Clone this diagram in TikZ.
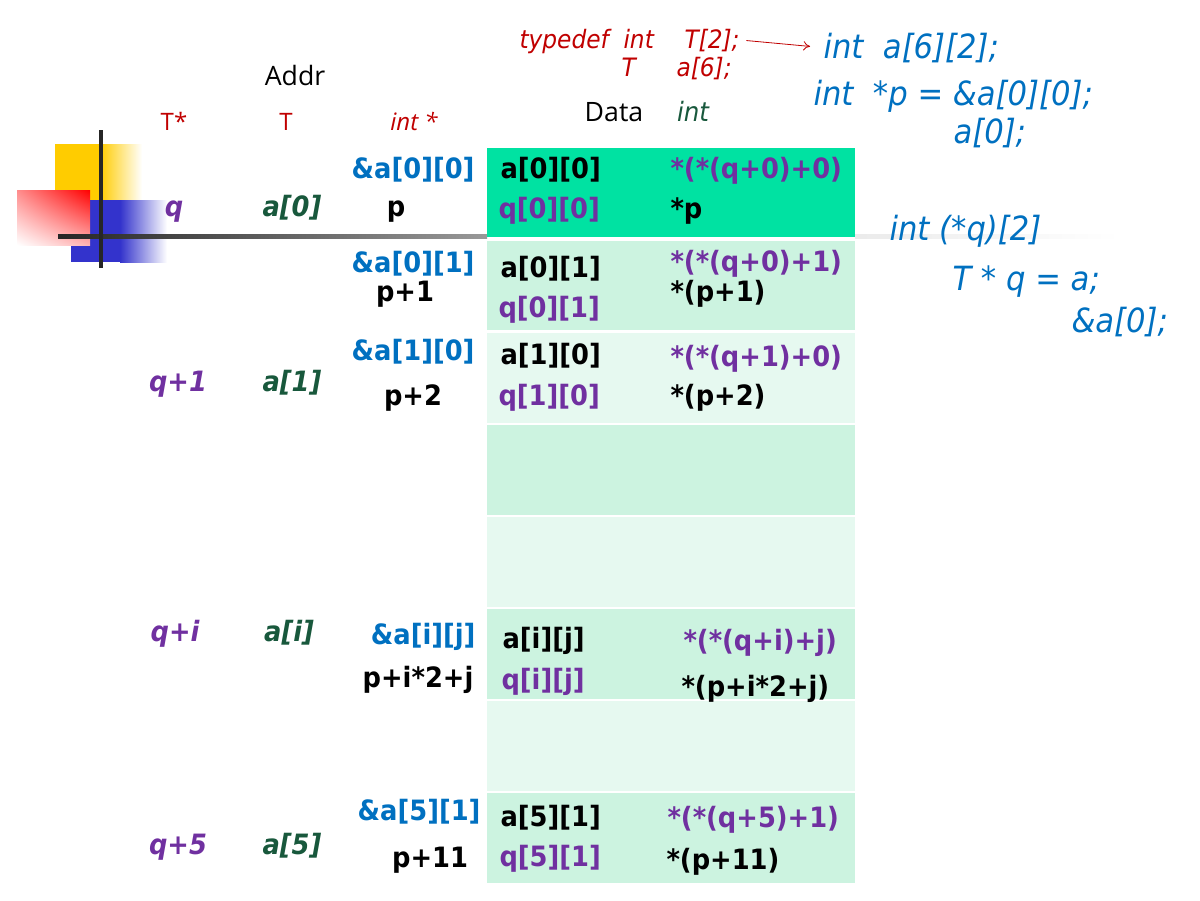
\documentclass[tikz,border=0pt]{standalone}
\usepackage{fontspec}
\setmainfont{DejaVu Sans}[FakeStretch=0.92]
\newfontfamily\hdrfont{Open Sans}
\usetikzlibrary{arrows.meta,shadings}

\definecolor{cRed}{RGB}{192,0,0}
\definecolor{cPurple}{RGB}{112,48,160}
\definecolor{cGreen}{RGB}{24,88,60}
\definecolor{cBlue}{RGB}{0,112,192}
\definecolor{cMint}{RGB}{0,226,162}
\definecolor{cPale}{RGB}{204,243,224}
\definecolor{cPaler}{RGB}{230,249,240}
\definecolor{cYellow}{RGB}{255,204,0}
\definecolor{cSquare}{RGB}{51,51,204}

\tikzset{every picture/.style={line width=0.75pt}}
\tikzset{
  cellb/.style={inner sep=0.75pt, font=\bfseries\fontsize{21}{25}\selectfont},
  sideb/.style={inner sep=0.75pt, font=\bfseries\itshape\fontsize{21}{25}\selectfont},
  hdr/.style={inner sep=0.75pt, font=\hdrfont\fontsize{20}{24}\selectfont},
  code/.style={inner sep=0.75pt, color=cBlue, font=\itshape\fontsize{25}{30}\selectfont},
  tdef/.style={inner sep=0.75pt, color=cRed, font=\itshape\fontsize{19}{23}\selectfont}
}

\begin{document}
\begin{tikzpicture}[x=0.75pt,y=0.75pt,yscale=-1,xscale=1]
\useasboundingbox (0,0) rectangle (1200,900);

%Shape: Squares (corner decoration)
\fill [cYellow] (55,144) rectangle (100,200);
\shade [left color=cYellow, right color=white] (100,144) rectangle (142,200);
\fill [cSquare] (71,200) rectangle (120,262);
\shade [left color=cSquare, right color=white] (120,200) rectangle (167,262);
\shade [upper right=red, upper left=red!45, lower right=red!30, lower left=white] (17,190) rectangle (90,245);
%Straight Lines
\shade [left color=black!85, right color=black!40] (58,234) rectangle (487,238);
\shade [left color=black!8, right color=white] (855,234) rectangle (1120,238);
\draw [line width=3pt, color=black!85] (101,130) -- (101,268);

%Shape: Rectangle
\fill [cMint] (487,148) rectangle (855,237);
\fill [cPale] (487,241) rectangle (855,330);
\fill [cPaler] (487,333) rectangle (855,423);
\fill [cPale] (487,425) rectangle (855,515);
\fill [cPaler] (487,517) rectangle (855,607);
\fill [cPale] (487,609) rectangle (855,699);
\fill [cPaler] (487,701) rectangle (855,791);
\fill [cPale] (487,793) rectangle (855,883);

% Text Node
\draw (295,85) node (addr) [anchor=base][hdr] {Addr};
\draw (174,130) node (tstar) [anchor=base][hdr, color=cRed, font=\hdrfont\fontsize{18}{22}\selectfont] {T*};
\draw (286,130) node (tcol) [anchor=base][hdr, color=cRed, font=\hdrfont\fontsize{18}{22}\selectfont] {T};
\draw (414,130) node (intstar) [anchor=base][hdr, color=cRed, font=\hdrfont\itshape\fontsize{18}{22}\selectfont] {int *};
\draw (614,121) node (data) [anchor=base][hdr] {Data};
\draw (693,121) node (intcol) [anchor=base][hdr, color=cGreen, font=\itshape\fontsize{20}{24}\selectfont] {int};

% Text Node
\draw (518,48) node (tdefkw) [anchor=base west][tdef] {typedef};
\draw (622,48) node (tdefint) [anchor=base west][tdef] {int};
\draw (683,48) node (tdeftwo) [anchor=base west][tdef] {T[2];};
\draw (620,76) node (tdeft) [anchor=base west][tdef] {T};
\draw (675,76) node (tdefsix) [anchor=base west][tdef] {a[6];};
\draw (822,58) node (decla) [anchor=base west][code] {int\ \ a[6][2];};
\draw (812,105) node (declp) [anchor=base west][code] {int\ \ *p = \&a[0][0];};
\draw (952,143) node (declpa) [anchor=base west][code] {a[0];};
\draw (888,240) node (declq) [anchor=base west][code] {int (*q)[2]};
\draw (951,290) node (declt) [anchor=base west][code] {T * q = a;};
\draw (1070,332) node (decltq) [anchor=base west][code] {\&a[0];};

%Straight Lines
\draw [color=cRed, line width=0.6pt, -{To[length=5pt,width=7pt]}, shorten <=4pt, shorten >=9pt] (tdeftwo.east) -- (decla.west);

% Text Node (row a[0][0])
\draw (174,216) node (q0) [anchor=base][sideb, color=cPurple] {q};
\draw (292,216) node (arow0) [anchor=base][sideb, color=cGreen] {a[0]};
\draw (396,216) node (p0) [anchor=base][cellb] {p};
\draw (476,178) node (ad00) [anchor=base east][cellb, color=cBlue] {\&a[0][0]};
\draw (499,178) node (a00) [anchor=base west][cellb] {a[0][0]};
\draw (497,218) node (q00) [anchor=base west][cellb, color=cPurple] {q[0][0]};
\draw (669,178) node (e00) [anchor=base west][cellb, color=cPurple] {*(*(q+0)+0)};
\draw (669,218) node (s00) [anchor=base west][cellb] {*p};

% Text Node (row a[0][1])
\draw (476,272) node (ad01) [anchor=base east][cellb, color=cBlue] {\&a[0][1]};
\draw (405,301) node (p01) [anchor=base][cellb] {p+1};
\draw (499,277) node (a01) [anchor=base west][cellb] {a[0][1]};
\draw (497,317) node (q01) [anchor=base west][cellb, color=cPurple] {q[0][1]};
\draw (669,271) node (e01) [anchor=base west][cellb, color=cPurple] {*(*(q+0)+1)};
\draw (669,301) node (s01) [anchor=base west][cellb] {*(p+1)};

% Text Node (row a[1][0])
\draw (178,391) node (q1) [anchor=base][sideb, color=cPurple] {q+1};
\draw (292,391) node (arow1) [anchor=base][sideb, color=cGreen] {a[1]};
\draw (476,360) node (ad10) [anchor=base east][cellb, color=cBlue] {\&a[1][0]};
\draw (413,405) node (p10) [anchor=base][cellb] {p+2};
\draw (499,364) node (a10) [anchor=base west][cellb] {a[1][0]};
\draw (497,405) node (q10) [anchor=base west][cellb, color=cPurple] {q[1][0]};
\draw (669,366) node (e10) [anchor=base west][cellb, color=cPurple] {*(*(q+1)+0)};
\draw (669,405) node (s10) [anchor=base west][cellb] {*(p+2)};

% Text Node (row a[i][j])
\draw (175,641) node (qi) [anchor=base][sideb, color=cPurple] {q+i};
\draw (289,641) node (arowi) [anchor=base][sideb, color=cGreen] {a[i]};
\draw (477,644) node (adij) [anchor=base east][cellb, color=cBlue] {\&a[i][j]};
\draw (418,687) node (pij) [anchor=base][cellb] {p+i*2+j};
\draw (501,648) node (aij) [anchor=base west][cellb] {a[i][j]};
\draw (500,689) node (qij) [anchor=base west][cellb, color=cPurple] {q[i][j]};
\draw (682,650) node (eij) [anchor=base west][cellb, color=cPurple] {*(*(q+i)+j)};
\draw (680,696) node (sij) [anchor=base west][cellb] {*(p+i*2+j)};

% Text Node (row a[5][1])
\draw (178,854) node (q5) [anchor=base][sideb, color=cPurple] {q+5};
\draw (292,854) node (arow5) [anchor=base][sideb, color=cGreen] {a[5]};
\draw (482,820) node (ad51) [anchor=base east][cellb, color=cBlue] {\&a[5][1]};
\draw (430,867) node (p51) [anchor=base][cellb] {p+11};
\draw (499,826) node (a51) [anchor=base west][cellb] {a[5][1]};
\draw (498,866) node (q51) [anchor=base west][cellb, color=cPurple] {q[5][1]};
\draw (666,827) node (e51) [anchor=base west][cellb, color=cPurple] {*(*(q+5)+1)};
\draw (665,869) node (s51) [anchor=base west][cellb] {*(p+11)};

\end{tikzpicture}
\end{document}
